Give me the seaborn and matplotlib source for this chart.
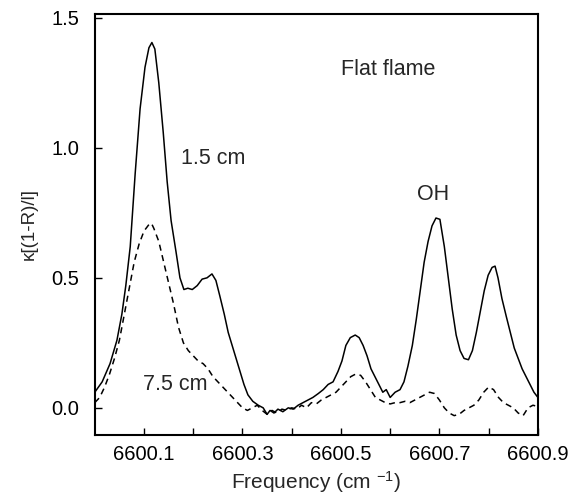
import numpy as np
import pandas as pd
import matplotlib
matplotlib.use("Agg")
import matplotlib.pyplot as plt
import seaborn as sns
from matplotlib.ticker import FixedLocator

# ---- data ----
freq_15 = [6600.000, 6600.015, 6600.031, 6600.045, 6600.055, 6600.063, 6600.072, 6600.082,
           6600.092, 6600.102, 6600.110, 6600.116, 6600.122, 6600.130, 6600.139, 6600.147,
           6600.155, 6600.165, 6600.173, 6600.181, 6600.189, 6600.198, 6600.208, 6600.218,
           6600.228, 6600.238, 6600.246, 6600.254, 6600.263, 6600.271, 6600.279, 6600.287,
           6600.295, 6600.303, 6600.311, 6600.321, 6600.332, 6600.342, 6600.350, 6600.356,
           6600.364, 6600.372, 6600.382, 6600.393, 6600.403, 6600.413, 6600.423, 6600.433,
           6600.443, 6600.454, 6600.464, 6600.474, 6600.484, 6600.494, 6600.502, 6600.510,
           6600.519, 6600.529, 6600.537, 6600.545, 6600.553, 6600.561, 6600.569, 6600.577,
           6600.585, 6600.592, 6600.600, 6600.610, 6600.620, 6600.628, 6600.636, 6600.645,
           6600.653, 6600.661, 6600.669, 6600.677, 6600.685, 6600.693, 6600.701, 6600.710,
           6600.718, 6600.726, 6600.734, 6600.742, 6600.750, 6600.759, 6600.767, 6600.775,
           6600.783, 6600.791, 6600.799, 6600.807, 6600.813, 6600.819, 6600.827, 6600.836,
           6600.844, 6600.852, 6600.860, 6600.868, 6600.876, 6600.884, 6600.892, 6600.900]
kappa_15 = [0.06, 0.10, 0.17, 0.26, 0.36, 0.47, 0.62, 0.90,
            1.15, 1.31, 1.385, 1.405, 1.38, 1.25, 1.06, 0.87,
            0.72, 0.60, 0.50, 0.455, 0.46, 0.455, 0.47, 0.495,
            0.50, 0.515, 0.49, 0.43, 0.36, 0.29, 0.24, 0.19,
            0.14, 0.09, 0.05, 0.025, 0.01, 0.0, -0.025, -0.01,
            -0.02, -0.005, -0.015, 0.0, -0.005, 0.01, 0.02, 0.03,
            0.04, 0.055, 0.07, 0.09, 0.10, 0.14, 0.18, 0.24,
            0.27, 0.28, 0.27, 0.24, 0.20, 0.15, 0.12, 0.09,
            0.06, 0.07, 0.04, 0.06, 0.07, 0.10, 0.16, 0.24,
            0.34, 0.45, 0.56, 0.64, 0.70, 0.73, 0.725, 0.62,
            0.50, 0.38, 0.28, 0.22, 0.19, 0.185, 0.22, 0.29,
            0.37, 0.45, 0.51, 0.54, 0.545, 0.50, 0.42, 0.35,
            0.29, 0.23, 0.19, 0.15, 0.12, 0.09, 0.06, 0.04]

freq_75 = [6600.000, 6600.010, 6600.020, 6600.030, 6600.040, 6600.050, 6600.060, 6600.070,
           6600.080, 6600.090, 6600.100, 6600.110, 6600.115, 6600.120, 6600.130, 6600.140,
           6600.150, 6600.160, 6600.170, 6600.180, 6600.190, 6600.200, 6600.210, 6600.220,
           6600.230, 6600.240, 6600.250, 6600.260, 6600.270, 6600.280, 6600.290, 6600.300,
           6600.310, 6600.320, 6600.330, 6600.340, 6600.350, 6600.360, 6600.370, 6600.380,
           6600.390, 6600.400, 6600.410, 6600.420, 6600.430, 6600.440, 6600.450, 6600.460,
           6600.470, 6600.480, 6600.490, 6600.500, 6600.510, 6600.520, 6600.530, 6600.540,
           6600.550, 6600.560, 6600.570, 6600.580, 6600.590, 6600.600, 6600.610, 6600.620,
           6600.630, 6600.640, 6600.650, 6600.660, 6600.670, 6600.680, 6600.690, 6600.700,
           6600.710, 6600.720, 6600.730, 6600.740, 6600.750, 6600.760, 6600.770, 6600.780,
           6600.790, 6600.800, 6600.810, 6600.820, 6600.830, 6600.840, 6600.850, 6600.860,
           6600.870, 6600.880, 6600.890, 6600.900]
kappa_75 = [0.02, 0.04, 0.08, 0.13, 0.19, 0.26, 0.36, 0.46,
            0.56, 0.63, 0.68, 0.705, 0.71, 0.69, 0.64, 0.56,
            0.48, 0.40, 0.31, 0.25, 0.22, 0.20, 0.18, 0.17,
            0.15, 0.12, 0.10, 0.08, 0.06, 0.04, 0.02, 0.0,
            -0.01, 0.0, 0.01, -0.01, -0.025, -0.01, -0.02, -0.005,
            -0.01, 0.0, -0.005, 0.01, 0.0, 0.02, 0.015, 0.03,
            0.04, 0.05, 0.06, 0.08, 0.10, 0.12, 0.13, 0.125,
            0.10, 0.07, 0.04, 0.03, 0.02, 0.015, 0.02, 0.02,
            0.025, 0.02, 0.03, 0.04, 0.05, 0.06, 0.055, 0.03,
            0.0, -0.02, -0.03, -0.025, -0.01, 0.0, 0.01, 0.03,
            0.06, 0.08, 0.07, 0.04, 0.02, 0.01, 0.0, -0.02,
            -0.03, 0.0, 0.01, 0.005]

x_major = [6600.1, 6600.3, 6600.5, 6600.7, 6600.9]
x_tick_labels = ["6600.1", "6600.3", "6600.5", "6600.7", "6600.9"]
x_minor = [6600.2, 6600.4, 6600.6, 6600.8]
y_major = [0.0, 0.5, 1.0, 1.5]
y_tick_labels = ["0.0", "0.5", "1.0", "1.5"]

# ---- style ----
sns.set_style("ticks")
plt.rcParams["font.family"] = ["Liberation Sans", "DejaVu Sans"]
plt.rcParams["mathtext.default"] = "regular"

df15 = pd.DataFrame({"freq": freq_15, "kappa": kappa_15})
df75 = pd.DataFrame({"freq": freq_75, "kappa": kappa_75})

fig = plt.figure(figsize=(5.71, 4.97), dpi=100)
ax = fig.add_axes([0.166, 0.125, 0.776, 0.847])

sns.lineplot(data=df15, x="freq", y="kappa", ax=ax, color="black", linewidth=1.1,
             sort=False, estimator=None)
sns.lineplot(data=df75, x="freq", y="kappa", ax=ax, color="black", linewidth=1.1,
             sort=False, estimator=None, linestyle=(0, (4, 3)))

ax.set_xlim(6600.0, 6600.9)
ax.set_ylim(-0.104, 1.515)
ax.xaxis.set_major_locator(FixedLocator(x_major))
ax.set_xticklabels(x_tick_labels)
ax.xaxis.set_minor_locator(FixedLocator(x_minor))
ax.set_yticks(y_major)
ax.set_yticklabels(y_tick_labels)

ax.tick_params(axis="both", which="both", direction="in", labelsize=14.5, colors="black")
ax.tick_params(axis="both", which="major", length=5, width=1)
ax.tick_params(axis="x", which="both", pad=7)
ax.tick_params(axis="y", which="major", pad=11)
ax.tick_params(axis="x", which="minor", length=5, width=1)

for s in ax.spines.values():
    s.set_linewidth(1.5)
    s.set_color("black")
    s.set_visible(True)

ax.set_xlabel("Frequency (cm $^{-1}$)", fontsize=15, labelpad=4)
ax.set_ylabel("\u03ba[(1-R)/l]", fontsize=13.5, labelpad=10)

ax.text(6600.24, 0.96, "1.5 cm", fontsize=15.5, ha="center", va="center")
ax.text(6600.163, 0.09, "7.5 cm", fontsize=15.5, ha="center", va="center")
ax.text(6600.596, 1.30, "Flat flame", fontsize=15.5, ha="center", va="center")
ax.text(6600.687, 0.82, "OH", fontsize=15.5, ha="center", va="center")

fig.savefig("out.png", dpi=100)
